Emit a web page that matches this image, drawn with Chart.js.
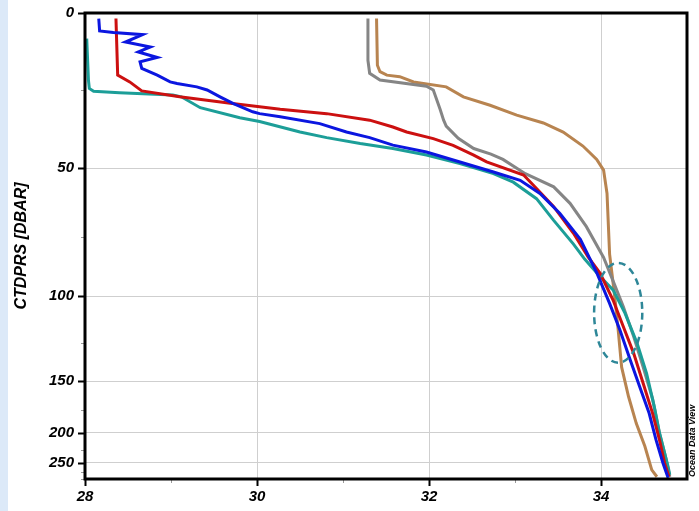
<!DOCTYPE html>
<html>
<head>
<meta charset="utf-8">
<script src="https://cdn.jsdelivr.net/npm/chart.js@4/dist/chart.umd.min.js"></script>
<style>
    html, body { margin: 0; padding: 0; background: #fff; }
    #wrap { width: 699px; height: 511px; }
</style>
</head>
<body>
<div id="wrap"><canvas id="myChart" width="699" height="511"></canvas></div>
<script>
// salinity (x) and pressure in dbar (y) for each station
const blueSal = [28.16, 28.17, 28.33, 28.67, 28.47, 28.76, 28.62, 28.84, 28.64, 28.66, 28.84, 28.99, 29.07, 29.30, 29.42, 29.57, 29.72, 29.95, 30.03, 30.27, 30.73, 31.04, 31.31, 31.58, 31.97, 32.36, 32.74, 33.06, 33.29, 33.52, 33.76, 33.95, 34.10, 34.22, 34.34, 34.45, 34.56, 34.64, 34.72, 34.78];
const bluePres = [1.8, 5.8, 6.3, 7.0, 9.4, 11.0, 12.6, 14.4, 15.8, 17.9, 20.1, 22.3, 22.8, 23.9, 24.9, 27.1, 29.2, 31.9, 32.5, 33.5, 35.7, 38.4, 40.2, 42.6, 44.8, 48.0, 51.3, 54.4, 59.2, 66.4, 76.1, 90.1, 103.9, 118.1, 136.2, 154.9, 178.6, 210.3, 250, 296];

const redSal = [28.36, 28.38, 28.52, 28.66, 29.10, 29.69, 30.03, 30.27, 30.81, 31.31, 31.58, 31.74, 32.05, 32.28, 32.52, 32.67, 33.10, 33.25, 33.45, 33.68, 33.85, 33.99, 34.14, 34.26, 34.38, 34.49, 34.60, 34.68, 34.74, 34.79];
const redPres = [1.8, 20.1, 22.3, 25.2, 27.1, 29.2, 30.3, 31.1, 32.5, 34.6, 36.8, 38.4, 40.5, 42.7, 45.8, 48.0, 52.5, 57.4, 64.0, 73.7, 83.5, 90.4, 102.1, 116.3, 131.8, 152.0, 178.6, 210.3, 250.6, 291.8];

const tealSal = [28.02, 28.04, 28.05, 28.10, 28.40, 29.02, 29.12, 29.34, 29.80, 30.03, 30.50, 30.81, 31.20, 31.58, 31.97, 32.36, 32.75, 32.98, 33.25, 33.45, 33.68, 33.81, 33.99, 34.14, 34.28, 34.42, 34.53, 34.62, 34.68, 34.74, 34.78, 34.80];
const tealPres = [8.3, 21.7, 24.4, 25.3, 25.8, 26.5, 27.1, 30.6, 33.8, 35.0, 38.4, 40.2, 42.1, 43.7, 45.8, 48.5, 52.0, 55.1, 61.1, 69.0, 78.1, 84.4, 91.8, 97.4, 109.2, 125.2, 145.0, 172.3, 200, 231.3, 260, 285];

const graySal = [31.29, 31.29, 31.31, 31.43, 31.97, 32.05, 32.13, 32.17, 32.20, 32.34, 32.52, 32.72, 32.86, 33.12, 33.45, 33.64, 33.83, 34.03, 34.14, 34.26, 34.38, 34.49, 34.60, 34.68, 34.75, 34.80];
const grayPres = [1.8, 15.3, 19.5, 21.7, 23.7, 24.9, 31.2, 34.6, 36.5, 40.4, 43.7, 45.5, 47.2, 52.0, 56.8, 62.8, 71.3, 83.7, 93.6, 105.7, 121.6, 140.9, 165.5, 200.4, 237.9, 292];

const brownSal = [31.39, 31.40, 31.43, 31.51, 31.66, 31.82, 32.20, 32.40, 32.71, 33.02, 33.33, 33.56, 33.79, 33.95, 34.03, 34.07, 34.10, 34.16, 34.20, 34.24, 34.32, 34.41, 34.51, 34.59, 34.65];
const brownPres = [1.8, 16.9, 19.0, 20.1, 20.6, 22.3, 23.9, 27.1, 29.8, 33.0, 35.5, 38.4, 42.9, 47.2, 50.7, 59.2, 82.3, 100.4, 118.1, 140.9, 163.4, 189.5, 219.6, 269, 292];

const salTicks = [28, 29, 30, 31, 32, 33, 34, 35];
const depthTicks = [0, 25, 50, 75, 100, 125, 150, 175, 200, 225, 250, 275, 300];

// ODV style non linear depth axis: where each depth tick sits (0 = top, 1 = bottom)
const depthAxisPos = [0, 0.1658, 0.3330, 0.4803, 0.6074, 0.7082, 0.7897, 0.8519, 0.9012, 0.9376, 0.9655, 0.9850, 1];

function depthToAxis(p) {
    for (let i = 1; i < depthTicks.length; i++) {
        if (p <= depthTicks[i]) {
            const t = (p - depthTicks[i - 1]) / (depthTicks[i] - depthTicks[i - 1]);
            return depthAxisPos[i - 1] + t * (depthAxisPos[i] - depthAxisPos[i - 1]);
        }
    }
    return 1;
}

function profile(sal, pres) {
    return sal.map((s, i) => ({ x: s, y: depthToAxis(pres[i]) }));
}

const labelFont = { family: '"Liberation Sans", Arial, sans-serif', size: 15, weight: 'bold', style: 'italic' };

const frame = {
    id: 'frame',
    beforeDraw(chart) {
        const c = chart.ctx;
        c.save();
        c.fillStyle = '#ffffff';
        c.fillRect(0, 0, chart.width, chart.height);
        c.fillStyle = '#dce9f8';
        c.fillRect(0, 0, 8, chart.height);
        c.restore();
    },
    afterDraw(chart) {
        const c = chart.ctx;
        const a = chart.chartArea;
        const xs = chart.scales.x;
        const ys = chart.scales.y;
        c.save();

        // circled crossing of the profiles
        const cx = xs.getPixelForValue(34.2);
        const rx = (xs.getPixelForValue(34.48) - xs.getPixelForValue(33.92)) / 2;
        const top = ys.getPixelForValue(depthToAxis(86));
        const bot = ys.getPixelForValue(depthToAxis(138));
        c.setLineDash([7, 5]);
        c.strokeStyle = '#2e8798';
        c.lineWidth = 2.5;
        c.beginPath();
        c.ellipse(cx, (top + bot) / 2, rx, (bot - top) / 2, 0, 0, Math.PI * 2);
        c.stroke();
        c.setLineDash([]);

        // tick marks
        salTicks.forEach(v => {
            if (v === 35) return;
            const px = Math.round(xs.getPixelForValue(v)) + 0.5;
            const major = v % 2 === 0;
            c.strokeStyle = major ? '#000' : '#999';
            c.lineWidth = major ? 2 : 1;
            c.beginPath();
            c.moveTo(px, a.bottom);
            c.lineTo(px, a.bottom + (major ? 7 : 4));
            c.stroke();
        });
        depthTicks.forEach(p => {
            const py = Math.round(ys.getPixelForValue(depthToAxis(p))) + 0.5;
            const major = p % 50 === 0 && p < 300;
            c.strokeStyle = major ? '#000' : '#999';
            c.lineWidth = major ? 2 : 1;
            c.beginPath();
            c.moveTo(a.left, py);
            c.lineTo(a.left - (major ? 7 : 4), py);
            c.stroke();
        });

        // plot box
        c.strokeStyle = '#000';
        c.lineWidth = 3;
        c.strokeRect(a.left, a.top, a.right - a.left, a.bottom - a.top);

        // watermark
        c.translate(692.5, a.bottom);
        c.rotate(-Math.PI / 2);
        c.fillStyle = '#000';
        c.font = 'italic bold 9px "Liberation Sans", Arial, sans-serif';
        c.textBaseline = 'middle';
        c.textAlign = 'left';
        c.fillText('Ocean Data View', 2, 0);
        c.restore();
    }
};

const line = (sal, pres, color) => ({
    data: profile(sal, pres),
    borderColor: color,
    backgroundColor: color,
    borderWidth: 3,
    pointRadius: 0,
    tension: 0,
    fill: false
});

new Chart('myChart', {
    type: 'line',
    data: {
        datasets: [
            line(blueSal, bluePres, '#0b16e0'),
            line(redSal, redPres, '#cc1010'),
            line(tealSal, tealPres, '#1c9e98'),
            line(graySal, grayPres, '#858585'),
            line(brownSal, brownPres, '#b88450')
        ]
    },
    options: {
        responsive: false,
        animation: false,
        layout: { padding: { left: 0, right: 12, top: 13, bottom: 0 } },
        plugins: { legend: { display: false }, tooltip: { enabled: false } },
        scales: {
            x: {
                type: 'linear',
                min: 28,
                max: 35,
                afterBuildTicks: s => { s.ticks = salTicks.map(v => ({ value: v })); },
                afterFit: s => { s.height = 32; },
                ticks: {
                    autoSkip: false,
                    maxRotation: 0,
                    padding: 2,
                    color: '#000',
                    font: labelFont,
                    callback: v => (v % 2 === 0 && v < 35 ? v : '')
                },
                grid: {
                    tickLength: 7,
                    tickColor: 'rgba(0,0,0,0)',
                    color: c => (c.tick && c.tick.value % 2 === 0 && c.tick.value > 28 && c.tick.value < 35 ? '#cfcfcf' : 'rgba(0,0,0,0)')
                },
                border: { display: false }
            },
            y: {
                type: 'linear',
                min: 0,
                max: 1,
                reverse: true,
                afterBuildTicks: s => { s.ticks = depthTicks.map(p => ({ value: depthToAxis(p) })); },
                afterFit: s => { s.width = 85; },
                ticks: {
                    autoSkip: false,
                    padding: 4,
                    color: '#000',
                    font: labelFont,
                    callback: (v, i) => (depthTicks[i] % 50 === 0 && depthTicks[i] < 300 ? depthTicks[i] : '')
                },
                grid: {
                    tickLength: 7,
                    tickColor: 'rgba(0,0,0,0)',
                    color: c => {
                        const p = depthTicks[c.index];
                        return p % 50 === 0 && p > 0 && p < 300 ? '#cfcfcf' : 'rgba(0,0,0,0)';
                    }
                },
                border: { display: false },
                title: {
                    display: true,
                    text: 'CTDPRS [DBAR]',
                    color: '#000',
                    font: { family: '"Liberation Sans", Arial, sans-serif', size: 16, weight: 'bold', style: 'italic' },
                    padding: { top: 12, bottom: 0 }
                }
            }
        }
    },
    plugins: [frame]
});
</script>
</body>
</html>
